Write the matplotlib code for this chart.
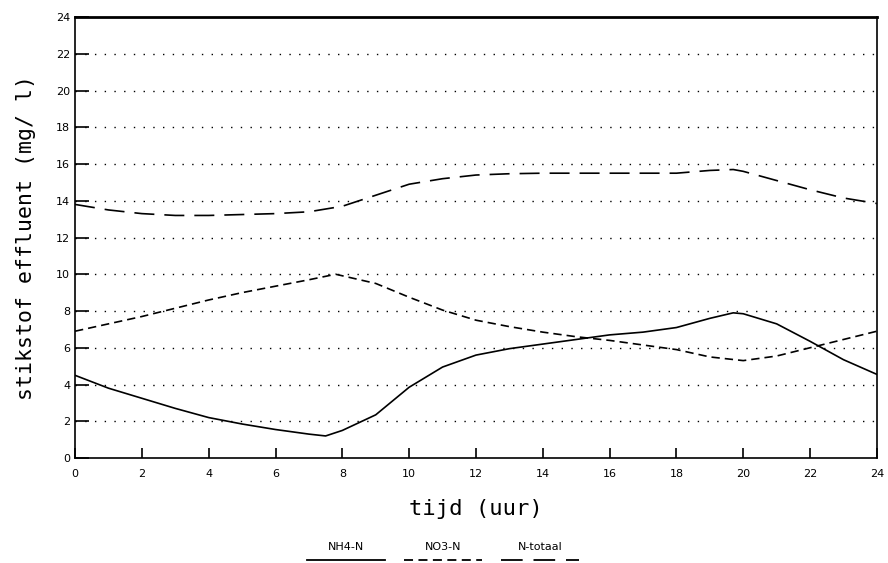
import matplotlib
matplotlib.use('Agg')
import matplotlib.pyplot as plt
from matplotlib.lines import Line2D

# tijd (uur)
t_nh4 = [0, 1, 2, 3, 4, 5, 6, 7, 7.5, 8, 9, 10, 11, 12, 13, 14, 15, 16, 17, 18, 19, 19.7, 20, 21, 22, 23, 24]
nh4 = [4.5, 3.8, 3.25, 2.7, 2.2, 1.85, 1.55, 1.3, 1.2, 1.5, 2.35, 3.85, 4.95, 5.6, 5.95, 6.2, 6.45, 6.7, 6.85, 7.1, 7.6, 7.9, 7.85, 7.3, 6.35, 5.35, 4.55]

t_no3 = [0, 1, 2, 3, 4, 5, 6, 7, 7.8, 9, 10, 11, 12, 13, 14, 15, 16, 17, 18, 19, 20, 21, 22, 23, 24]
no3 = [6.9, 7.3, 7.7, 8.15, 8.6, 9.0, 9.35, 9.7, 10.0, 9.5, 8.75, 8.05, 7.5, 7.15, 6.85, 6.6, 6.4, 6.15, 5.9, 5.5, 5.3, 5.55, 6.0, 6.45, 6.9]

t_ntot = [0, 1, 2, 3, 4, 5, 6, 7, 8, 9, 10, 11, 12, 13, 14, 15, 16, 17, 18, 19, 19.7, 20, 21, 22, 23, 24]
ntot = [13.8, 13.5, 13.3, 13.2, 13.2, 13.25, 13.3, 13.4, 13.7, 14.3, 14.9, 15.2, 15.4, 15.47, 15.5, 15.5, 15.5, 15.5, 15.5, 15.65, 15.7, 15.6, 15.1, 14.6, 14.15, 13.85]

labels = ['NH4-N', 'NO3-N', 'N-totaal']
xticks = list(range(0, 25, 2))
yticks = list(range(0, 25, 2))

fig = plt.figure(figsize=(8.88, 5.63), dpi=100)
ax = fig.add_axes([0.0845, 0.1865, 0.903, 0.7833])

ax.plot(t_nh4, nh4, color='black', lw=1.2, linestyle='-')
ax.plot(t_no3, no3, color='black', lw=1.2, linestyle=(0, (5, 3)))
ax.plot(t_ntot, ntot, color='black', lw=1.2, linestyle=(0, (12, 6)))

for y in yticks[1:-1]:
    ax.axhline(y, color='black', lw=1.0, linestyle=(0, (1, 6)))

ax.set_xlim(0, 24)
ax.set_ylim(0, 24)
ax.set_xticks(xticks)
ax.set_yticks(yticks)
ax.tick_params(direction='in', labelsize=8, width=1.2)
ax.tick_params(axis='y', length=10)
ax.tick_params(axis='x', length=7, pad=8)
for s in ax.spines.values():
    s.set_linewidth(1.2)
ax.spines['top'].set_linewidth(2)

ax.set_xlabel('tijd (uur)', family='DejaVu Sans Mono', fontsize=16, labelpad=14)
ax.set_ylabel('stikstof effluent (mg/ l)', family='DejaVu Sans Mono', fontsize=15.5, labelpad=14)

# legend: label above the line sample
styles = ['-', (0, (5, 3)), (0, (12, 6))]
centers = [346, 443, 540]
for lab, st, cx in zip(labels, styles, centers):
    fig.text(cx / 888, (563 - 547) / 563, lab, ha='center', va='center', fontsize=8)
    fig.add_artist(Line2D([(cx - 39) / 888, (cx + 39) / 888], [(563 - 560) / 563] * 2,
                          color='black', lw=1.3, linestyle=st, transform=fig.transFigure))

fig.savefig('out.png', dpi=100)
